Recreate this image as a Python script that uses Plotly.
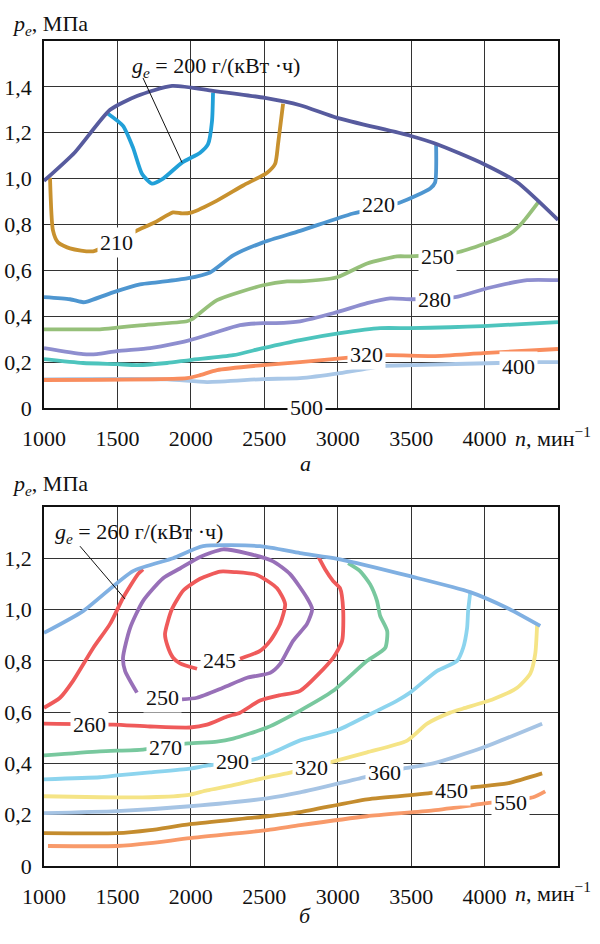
import plotly.graph_objects as go

FONT = "Liberation Serif"

# ---------------- chart (а) ----------------
env_a_n = [1000, 1211, 1450, 1633, 1872, 2150, 2505, 2744, 2996, 3493, 3677, 3990, 4222, 4500]
env_a_p = [0.99, 1.115, 1.30, 1.36, 1.404, 1.383, 1.352, 1.32, 1.265, 1.187, 1.15, 1.065, 0.984, 0.82]

a200_n = [1436, 1538, 1606, 1668, 1735, 1811, 1940, 2063, 2117, 2144, 2151]
a200_p = [1.283, 1.23, 1.135, 1.02, 0.978, 1.0, 1.07, 1.113, 1.15, 1.25, 1.375]

a210_n = [1041, 1061, 1095, 1177, 1334, 1633, 1756, 1879, 1940, 2008, 2178, 2356, 2519, 2574, 2594, 2628]
a210_p = [1.004, 0.774, 0.722, 0.696, 0.683, 0.774, 0.81, 0.853, 0.848, 0.853, 0.904, 0.97, 1.026, 1.065, 1.152, 1.326]

a220_n = [1000, 1177, 1266, 1300, 1470, 1654, 1770, 1974, 2131, 2288, 2492, 2744, 3104, 3425, 3630, 3663, 3670]
a220_p = [0.483, 0.474, 0.461, 0.465, 0.504, 0.539, 0.548, 0.565, 0.591, 0.665, 0.722, 0.772, 0.848, 0.896, 0.957, 0.983, 1.152]

a250_n = [1000, 1381, 1497, 1654, 1974, 2008, 2178, 2492, 2655, 2744, 2996, 3200, 3405, 3493, 3813, 4004, 4174, 4260, 4365]
a250_p = [0.343, 0.343, 0.35, 0.36, 0.378, 0.387, 0.47, 0.535, 0.552, 0.552, 0.57, 0.63, 0.661, 0.661, 0.678, 0.717, 0.76, 0.81, 0.896]

a280_n = [1000, 1266, 1360, 1497, 1722, 1906, 1994, 2151, 2335, 2492, 2580, 2744, 2969, 3200, 3357, 3507, 3800, 4018, 4290, 4500]
a280_p = [0.261, 0.235, 0.235, 0.248, 0.261, 0.283, 0.296, 0.326, 0.361, 0.37, 0.37, 0.378, 0.413, 0.457, 0.478, 0.474, 0.483, 0.522, 0.557, 0.557]

a300_n = [1000, 1266, 1497, 1633, 1838, 1994, 2288, 2492, 2744, 3016, 3289, 3493, 3766, 3990, 4500]
a300_p = [0.213, 0.196, 0.191, 0.187, 0.196, 0.209, 0.23, 0.261, 0.296, 0.326, 0.348, 0.348, 0.352, 0.357, 0.374]

a320_n = [1000, 1974, 2063, 2178, 2492, 2744, 3036, 3336, 3650, 3990, 4500]
a320_p = [0.122, 0.13, 0.143, 0.165, 0.187, 0.2, 0.217, 0.23, 0.226, 0.239, 0.257]

a400_n = [1000, 1838, 2110, 2492, 2744, 3016, 3310, 3514, 4086, 4379, 4500]
a400_p = [0.125, 0.125, 0.113, 0.126, 0.13, 0.152, 0.183, 0.187, 0.196, 0.2, 0.2]

# contour labels (value, n, p)
labels_a = [("210", 1497, 0.722), ("220", 3275, 0.885), ("250", 3677, 0.662),
            ("280", 3657, 0.474), ("320", 3193, 0.232), ("400", 4229, 0.180),
            ("500", 2788, 0.0)]

# ---------------- chart (б) ----------------
env_b_n = [1000, 1266, 1606, 1879, 2083, 2471, 2744, 3016, 3493, 3902, 4154, 4379]
env_b_p = [0.909, 0.994, 1.15, 1.2, 1.247, 1.247, 1.22, 1.196, 1.13, 1.068, 1.006, 0.936]

b245_n = [2042, 1926, 1879, 1840, 1824, 1870, 1950, 2063, 2200, 2300, 2451, 2587, 2642, 2608, 2540, 2471, 2335]
b245_p = [0.769, 0.79, 0.812, 0.86, 0.905, 1.0, 1.075, 1.12, 1.148, 1.146, 1.135, 1.083, 1.021, 0.944, 0.878, 0.839, 0.808]

b250_n = [1633, 1552, 1538, 1586, 1674, 1811, 1926, 2063, 2219, 2383, 2560, 2676, 2791, 2826, 2791, 2696, 2608, 2540, 2383, 2219, 2042, 1940]
b250_p = [0.676, 0.761, 0.812, 0.928, 1.033, 1.122, 1.16, 1.205, 1.235, 1.219, 1.188, 1.138, 1.045, 1.002, 0.944, 0.878, 0.788, 0.753, 0.734, 0.695, 0.656, 0.65]

b260l_n = [1000, 1109, 1198, 1335, 1450, 1538, 1640, 1674]
b260l_p = [0.617, 0.656, 0.722, 0.85, 0.944, 1.045, 1.138, 1.157]

b260_n = [1000, 1470, 1722, 1994, 2110, 2247, 2335, 2471, 2600, 2744, 2969, 3030, 3037, 3016, 2969, 2914, 2866]
b260_p = [0.555, 0.551, 0.544, 0.54, 0.551, 0.583, 0.598, 0.645, 0.665, 0.683, 0.812, 0.878, 1.0, 1.083, 1.111, 1.157, 1.208]

b270_n = [1000, 1381, 1674, 1981, 2178, 2288, 2519, 2744, 2969, 3200, 3323, 3337, 3289, 3268, 3220, 3152, 3071]
b270_p = [0.431, 0.447, 0.454, 0.478, 0.485, 0.497, 0.54, 0.606, 0.683, 0.8, 0.85, 0.916, 0.975, 1.033, 1.099, 1.15, 1.181]

b290_n = [1000, 1381, 1497, 1722, 1994, 2117, 2424, 2560, 2744, 3000, 3200, 3405, 3493, 3677, 3813, 3854, 3881, 3888, 3902]
b290_p = [0.338, 0.346, 0.353, 0.365, 0.38, 0.392, 0.415, 0.443, 0.49, 0.53, 0.586, 0.645, 0.676, 0.761, 0.8, 0.85, 0.928, 0.994, 1.064]

b320_n = [1000, 1381, 1722, 1974, 2110, 2288, 2519, 2655, 2948, 3200, 3473, 3609, 3766, 3854, 4058, 4222, 4311, 4345, 4358]
b320_p = [0.272, 0.268, 0.268, 0.276, 0.295, 0.315, 0.346, 0.361, 0.404, 0.443, 0.489, 0.555, 0.598, 0.614, 0.65, 0.695, 0.75, 0.827, 0.944]

b360_n = [1000, 1497, 1994, 2519, 2744, 3152, 3446, 3650, 3990, 4392]
b360_p = [0.206, 0.214, 0.233, 0.264, 0.287, 0.342, 0.38, 0.4, 0.462, 0.555]

b450_n = [1000, 1497, 1722, 1994, 2519, 2744, 3200, 3616, 3915, 4154, 4392]
b450_p = [0.128, 0.128, 0.14, 0.163, 0.194, 0.21, 0.26, 0.283, 0.307, 0.322, 0.361]

b550_n = [1027, 1497, 1722, 1994, 2519, 2744, 3200, 3650, 4018, 4331, 4413]
b550_p = [0.078, 0.078, 0.089, 0.109, 0.14, 0.159, 0.194, 0.217, 0.245, 0.268, 0.291]

labels_b = [("245", 2192, 0.802), ("250", 1804, 0.656), ("260", 1313, 0.551),
            ("270", 1824, 0.462), ("290", 2281, 0.408), ("320", 2819, 0.384),
            ("360", 3316, 0.365), ("450", 3772, 0.295), ("550", 4174, 0.249)]

x_ticks = [1000, 1500, 2000, 2500, 3000, 3500, 4000]
y_ticks_a = [0, 0.2, 0.4, 0.6, 0.8, 1.0, 1.2, 1.4]
y_ticks_b = [0, 0.2, 0.4, 0.6, 0.8, 1.0, 1.2]
y_text_a = ["0", "0,2", "0,4", "0,6", "0,8", "1,0", "1,2", "1,4"]
y_text_b = ["0", "0,2", "0,4", "0,6", "0,8", "1,0", "1,2"]

series_a = [
    (a400_n, a400_p, "#A9C7E7"),
    (a320_n, a320_p, "#F98D5E"),
    (a300_n, a300_p, "#4DC4BD"),
    (a280_n, a280_p, "#8E8ECF"),
    (a250_n, a250_p, "#96C07A"),
    (a220_n, a220_p, "#4E96D0"),
    (a210_n, a210_p, "#C8912E"),
    (a200_n, a200_p, "#21A0D8"),
    (env_a_n, env_a_p, "#575B9E"),
]
series_b = [
    (b550_n, b550_p, "#F89A6A"),
    (b450_n, b450_p, "#C48C2E"),
    (b360_n, b360_p, "#A6C4E4"),
    (b320_n, b320_p, "#F5E486"),
    (b290_n, b290_p, "#8CD4EE"),
    (b270_n, b270_p, "#78C89E"),
    (b260_n, b260_p, "#EF5A5A"),
    (b260l_n, b260l_p, "#EF5A5A"),
    (b250_n, b250_p, "#9870B8"),
    (b245_n, b245_p, "#EF5A5A"),
    (env_b_n, env_b_p, "#80B0E2"),
]

fig = go.Figure()
for n, p, c in series_a:
    fig.add_trace(go.Scatter(x=n, y=p, mode="lines", line=dict(color=c, width=3.8, shape="spline", smoothing=0.6),
                             xaxis="x", yaxis="y", hoverinfo="skip"))
for n, p, c in series_b:
    fig.add_trace(go.Scatter(x=n, y=p, mode="lines", line=dict(color=c, width=3.8, shape="spline", smoothing=0.6),
                             xaxis="x2", yaxis="y2", hoverinfo="skip"))

GRID = "#333333"

axis_common = dict(showgrid=True, gridcolor=GRID, gridwidth=1.2, zeroline=False, automargin=False,
                   showline=True, linecolor="#111", linewidth=1.8, mirror=True,
                   ticks="", tickfont=dict(family=FONT, size=22, color="#111"))

fig.update_layout(
    width=600, height=944, showlegend=False,
    paper_bgcolor="white", plot_bgcolor="white",
    font=dict(family=FONT, size=22, color="#111"),
    margin=dict(l=44, r=42, t=41, b=78),
    xaxis=dict(axis_common, domain=[0, 1], range=[1000, 4500], tickvals=x_ticks,
               ticktext=[str(v) for v in x_ticks], anchor="y", ticklabelstandoff=10),
    yaxis=dict(axis_common, domain=[0.5552, 1], range=[0, 1.6], tickvals=y_ticks_a,
               ticktext=y_text_a, anchor="x", ticklabelstandoff=6),
    xaxis2=dict(axis_common, domain=[0, 1], range=[1000, 4500], tickvals=x_ticks,
                ticktext=[str(v) for v in x_ticks], anchor="y2", ticklabelstandoff=10),
    yaxis2=dict(axis_common, domain=[0, 0.4352], range=[0, 1.4], tickvals=y_ticks_b,
                ticktext=y_text_b, anchor="x2", ticklabelstandoff=6),
)

anns = []
tf = dict(family=FONT, size=22, color="#111")
for t, n, p in labels_a:
    anns.append(dict(x=n, y=p, xref="x", yref="y", text=t, showarrow=False, font=tf,
                     bgcolor="white", borderpad=2, xanchor="center", yanchor="middle"))
for t, n, p in labels_b:
    anns.append(dict(x=n, y=p, xref="x2", yref="y2", text=t, showarrow=False, font=tf,
                     bgcolor="white", borderpad=2, xanchor="center", yanchor="middle"))

anns.append(dict(x=1586, y=1.487, xref="x", yref="y", xanchor="left", yanchor="middle", showarrow=False,
                 text="<i>g</i><sub><i>e</i></sub> = 200 г/(кВт ·ч)", font=tf))
anns.append(dict(x=1061, y=1.297, xref="x2", yref="y2", xanchor="left", yanchor="middle", showarrow=False,
                 text="<i>g</i><sub><i>e</i></sub> = 260 г/(кВт ·ч)", font=tf))

for yp in [1.019, 0.4618]:
    anns.append(dict(x=-0.066, y=yp, xref="paper", yref="paper", xanchor="left", yanchor="middle",
                     showarrow=False, text="<i>p</i><sub><i>e</i></sub>, МПа", font=tf))
for yp in [0.52, -0.0315]:
    anns.append(dict(x=0.912, y=yp, xref="paper", yref="paper", xanchor="left", yanchor="middle",
                     showarrow=False, text="<i>n</i>, мин<sup>−1</sup>", font=tf))
anns.append(dict(x=0.508, y=0.488, xref="paper", yref="paper", showarrow=False,
                 text="<i>а</i>", font=tf))
anns.append(dict(x=0.508, y=-0.0776, xref="paper", yref="paper", showarrow=False,
                 text="<i>б</i>", font=tf))
fig.update_layout(annotations=anns)

fig.add_shape(type="line", xref="x", yref="y", x0=1674, y0=1.439, x1=1940, y1=1.07,
              line=dict(color="#111", width=1))
fig.add_shape(type="line", xref="x2", yref="y2", x0=1245, y0=1.247, x1=1552, y1=1.041,
              line=dict(color="#111", width=1))

fig.write_html("out.html", config={"displayModeBar": False},
               post_script="document.body.style.margin='0';")
